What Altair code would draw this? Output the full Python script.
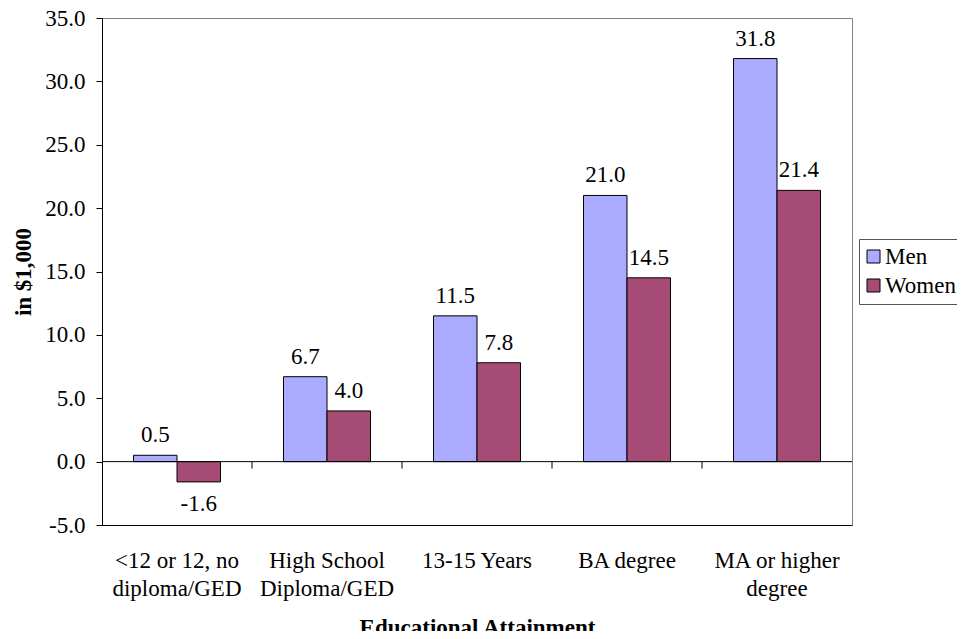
import altair as alt
import pandas as pd

categories = ["<12 or 12, no diploma/GED", "High School Diploma/GED", "13-15 Years", "BA degree", "MA or higher degree"]
label_lines = [["<12 or 12, no", "diploma/GED"], ["High School", "Diploma/GED"], ["13-15 Years"], ["BA degree"], ["MA or higher", "degree"]]
series = ["Men", "Women"]
men = [0.5, 6.7, 11.5, 21.0, 31.8]
women = [-1.6, 4.0, 7.8, 14.5, 21.4]
colors = ["#AAAAFF", "#A64B75"]
y_ticks = [-5, 0, 5, 10, 15, 20, 25, 30, 35]
boundaries = [1, 2, 3, 4]

rows = []
for i, c in enumerate(categories):
    rows.append({"cat": c, "series": "Men", "value": men[i], "label": f"{men[i]:.1f}"})
    rows.append({"cat": c, "series": "Women", "value": women[i], "label": f"{women[i]:.1f}"})
df = pd.DataFrame(rows)

FONT = "Liberation Serif"

label_expr = "{" + ",".join(
    '"%s": [%s]' % (c, ",".join('"%s"' % s for s in l)) for c, l in zip(categories, label_lines)
) + "}[datum.value]"

xscale = alt.Scale(domain=categories, paddingInner=0.42, paddingOuter=0.21)
yscale = alt.Scale(domain=[-5, 35], nice=False, zero=False)
xoff = alt.XOffset("series:N", sort=series, scale=alt.Scale(paddingInner=0, paddingOuter=0))

yaxis = alt.Axis(title="in $1,000", values=y_ticks,
                 labelExpr="replace(format(datum.value, '.1f'), '\u2212', '-')",
                 grid=False, tickSize=6, tickColor="black",
                 domainColor="black", labelFont=FONT, labelFontSize=23,
                 labelColor="black", labelPadding=11,
                 titleFont=FONT, titleFontSize=23, titleFontWeight="bold",
                 titleColor="black", titlePadding=9)

bars = alt.Chart(df).mark_bar(stroke="black", strokeWidth=1).encode(
    x=alt.X("cat:N", scale=xscale, sort=categories,
            axis=alt.Axis(title="Educational Attainment", labelAngle=0, ticks=False,
                          domain=True, domainColor="black", labelExpr=label_expr,
                          labelFont=FONT, labelFontSize=23, labelColor="black",
                          labelLineHeight=28, labelPadding=24,
                          titleFont=FONT, titleFontSize=23, titleFontWeight="bold",
                          titleColor="black", titlePadding=16)),
    xOffset=xoff,
    y=alt.Y("value:Q", scale=yscale, axis=yaxis),
    color=alt.Color("series:N", sort=series,
                    scale=alt.Scale(domain=series, range=colors),
                    legend=alt.Legend(title=None, orient="none", legendX=757, legendY=221,
                                      symbolType="square", symbolSize=169,
                                      symbolStrokeColor="black", symbolStrokeWidth=1,
                                      labelFont=FONT, labelFontSize=23, labelColor="black",
                                      rowPadding=5, padding=6, strokeColor="#555555",
                                      symbolOffset=-3, labelOffset=0)),
)

text_common = dict(
    x=alt.X("cat:N", scale=xscale, sort=categories, axis=None),
    xOffset=xoff,
    y=alt.Y("value:Q", scale=yscale, axis=yaxis),
    text=alt.Text("label:N"),
)

pos_text = alt.Chart(df).transform_filter("datum.value >= 0").mark_text(
    font=FONT, fontSize=23, color="black", baseline="bottom", dy=-8
).encode(**text_common)

neg_text = alt.Chart(df).transform_filter("datum.value < 0").mark_text(
    font=FONT, fontSize=23, color="black", baseline="top", dy=11
).encode(**text_common)

zero_rule = alt.Chart(pd.DataFrame({"value": [0]})).mark_rule(color="black", strokeWidth=1).encode(
    y=alt.Y("value:Q", scale=yscale, axis=yaxis)
)

ticks = alt.Chart(pd.DataFrame({"b": boundaries})).mark_rule(color="black", strokeWidth=1).encode(
    x=alt.X("b:Q", scale=alt.Scale(domain=[0, 5], nice=False, zero=False), axis=None),
    y=alt.datum(0, scale=yscale),
    y2=alt.datum(-0.55),
)

chart = alt.layer(bars, zero_rule, ticks, pos_text, neg_text).resolve_scale(
    x="independent"
).properties(
    width=750, height=507,
    autosize=alt.AutoSizeParams(type="none"),
    padding={"left": 94, "top": 10, "right": 105, "bottom": 106},
    background="white",
).configure_view(stroke="#808080", strokeWidth=1)

chart.save("out.html", embed_options={"renderer": "svg", "actions": False})
